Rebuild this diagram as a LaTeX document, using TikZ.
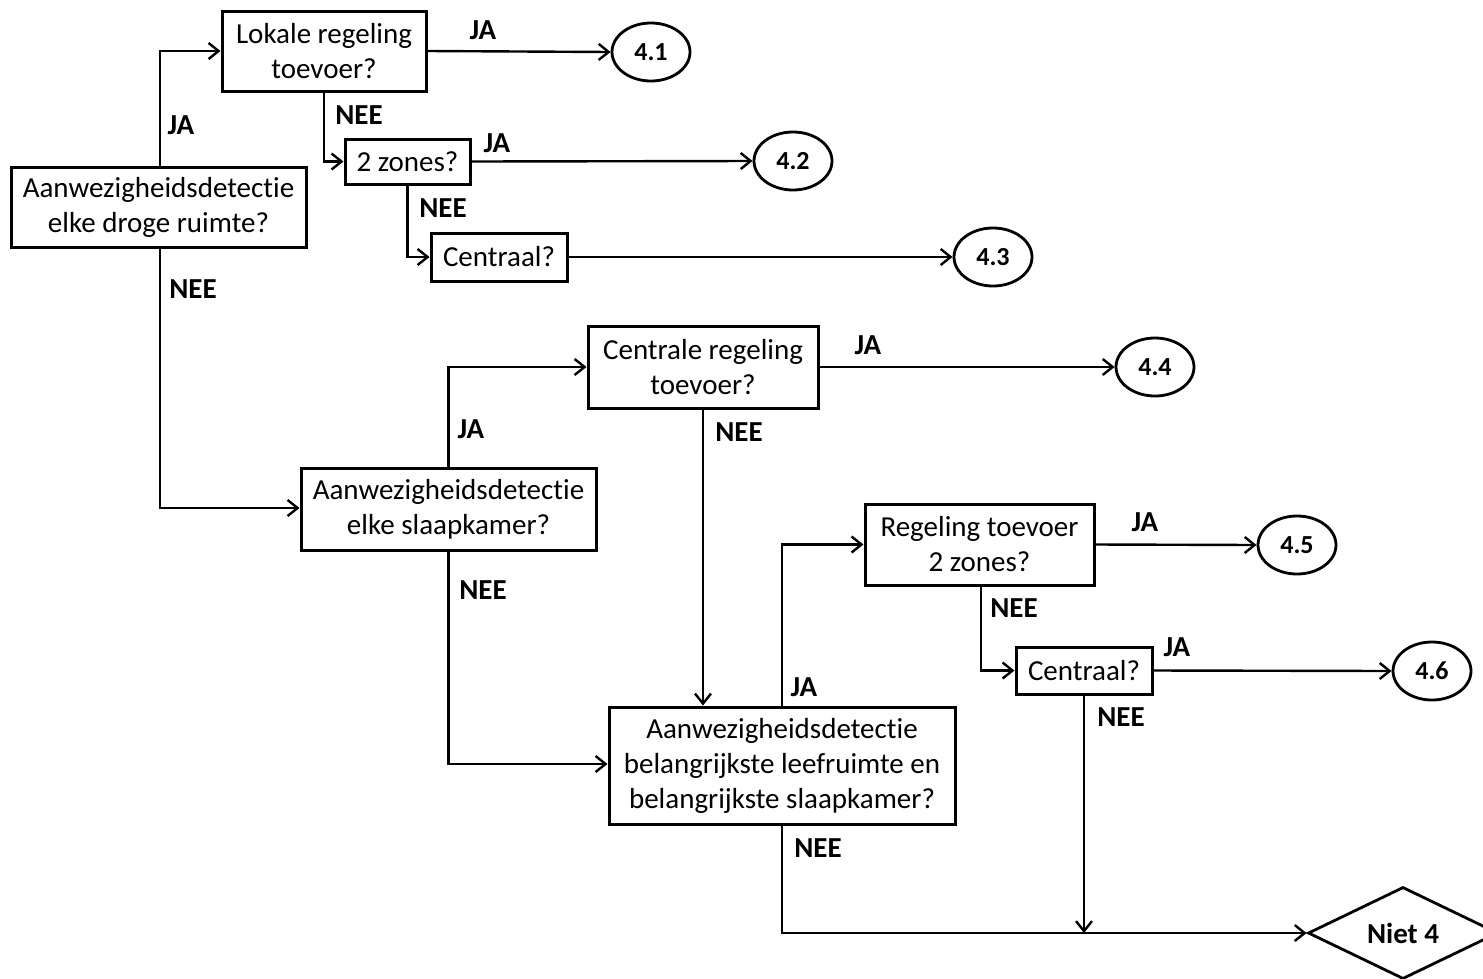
\documentclass[tikz,border=0pt]{standalone}
\usepackage{fontspec}
\setmainfont{Carlito}[Ligatures=NoCommon]
\usetikzlibrary{shapes.geometric,arrows.meta}
\begin{document}
\begin{tikzpicture}[x=1pt,y=-1pt,
  box/.style={draw,line width=3pt,rectangle,align=center,inner sep=0pt,
    font=\fontsize{29}{35}\selectfont},
  endpt/.style={draw,line width=2.8pt,ellipse,inner sep=0pt,minimum width=78pt,
    minimum height=58pt,font=\bfseries\fontsize{26}{30}\selectfont},
  lbl/.style={inner sep=0pt,font=\bfseries\fontsize{29}{32}\selectfont},
  conn/.style={line width=2.4pt,-{Straight Barb[length=10pt,width=16pt,line width=2.4pt]}}]
\useasboundingbox (0,0) rectangle (1483,978);

% decision boxes
\node[box,minimum width=295pt,minimum height=80pt] (A) at (158.5,207) {Aanwezigheidsdetectie\\elke droge ruimte?};
\node[box,minimum width=204pt,minimum height=80pt] (B) at (324,51) {Lokale regeling\\toevoer?};
\node[box,minimum width=125pt,minimum height=45pt] (C) at (407.5,161.5) {2 zones?};
\node[box,minimum width=136pt,minimum height=48pt] (D) at (499,257) {Centraal?};
\node[box,minimum width=230pt,minimum height=82pt] (F) at (703,367) {Centrale regeling\\toevoer?};
\node[box,minimum width=295pt,minimum height=82pt] (G) at (448.5,509) {Aanwezigheidsdetectie\\elke slaapkamer?};
\node[box,minimum width=229pt,minimum height=81pt] (H) at (979.5,544.5) {Regeling toevoer\\2 zones?};
\node[box,minimum width=136pt,minimum height=47pt] (I) at (1084,670.5) {Centraal?};
\node[box,minimum width=346pt,minimum height=117pt] (J) at (782,765.5) {Aanwezigheidsdetectie\\belangrijkste leefruimte en\\belangrijkste slaapkamer?};

% outcomes
\node[endpt] (E1) at (651,52) {4.1};
\node[endpt] (E2) at (793,161) {4.2};
\node[endpt] (E3) at (993,257) {4.3};
\node[endpt] (E4) at (1155,367) {4.4};
\node[endpt] (E5) at (1297,545) {4.5};
\node[endpt] (E6) at (1432,671) {4.6};
\node[draw,line width=2.8pt,diamond,aspect=2.05,inner sep=0pt,minimum width=190pt,
  minimum height=92pt,font=\bfseries\fontsize{29}{32}\selectfont] (K) at (1403,933) {Niet 4};

% connectors
\draw[conn] ([xshift=1.5pt]A.north) |- (B.west);
\draw[conn] (B.east) -- (E1.west);
\draw[conn] (B.south) |- (C.west);
\draw[conn] (C.east) -- (E2.west);
\draw[conn] (C.south) |- (D.west);
\draw[conn] (D.east) -- (E3.west);
\draw[conn] ([xshift=1.5pt]A.south) |- ([yshift=1pt]G.west);
\draw[conn] (G.north) |- (F.west);
\draw[conn] (F.east) -- (E4.west);
\draw[conn] (F.south) -- (F.south |- J.north);
\draw[conn] (G.south) |- ([yshift=1.5pt]J.west);
\draw[conn] (J.north) |- (H.west);
\draw[conn] (H.east) -- (E5.west);
\draw[conn] ([xshift=1.5pt]H.south) |- (I.west);
\draw[conn] (I.east) -- (E6.west);
\coordinate (M) at (I.south |- K.west);
\draw[conn] (I.south) -- (M);
\draw[conn] (J.south) |- (K.west);

% branch labels
\node[lbl] (l1) at (181,125) {JA};
\node[lbl] (l2) at (483,30) {JA};
\node[lbl] (l3) at (359,115) {NEE};
\node[lbl] (l4) at (497,143) {JA};
\node[lbl] (l5) at (443,208) {NEE};
\node[lbl] (l6) at (193,289) {NEE};
\node[lbl] (l7) at (471,429) {JA};
\node[lbl] (l8) at (868,345) {JA};
\node[lbl] (l9) at (739,432) {NEE};
\node[lbl] (l10) at (483,590) {NEE};
\node[lbl] (l11) at (804,687) {JA};
\node[lbl] (l12) at (1145,522) {JA};
\node[lbl] (l13) at (1014,608) {NEE};
\node[lbl] (l14) at (1177,647) {JA};
\node[lbl] (l15) at (1121,717) {NEE};
\node[lbl] (l16) at (818,848) {NEE};
\end{tikzpicture}
\end{document}
